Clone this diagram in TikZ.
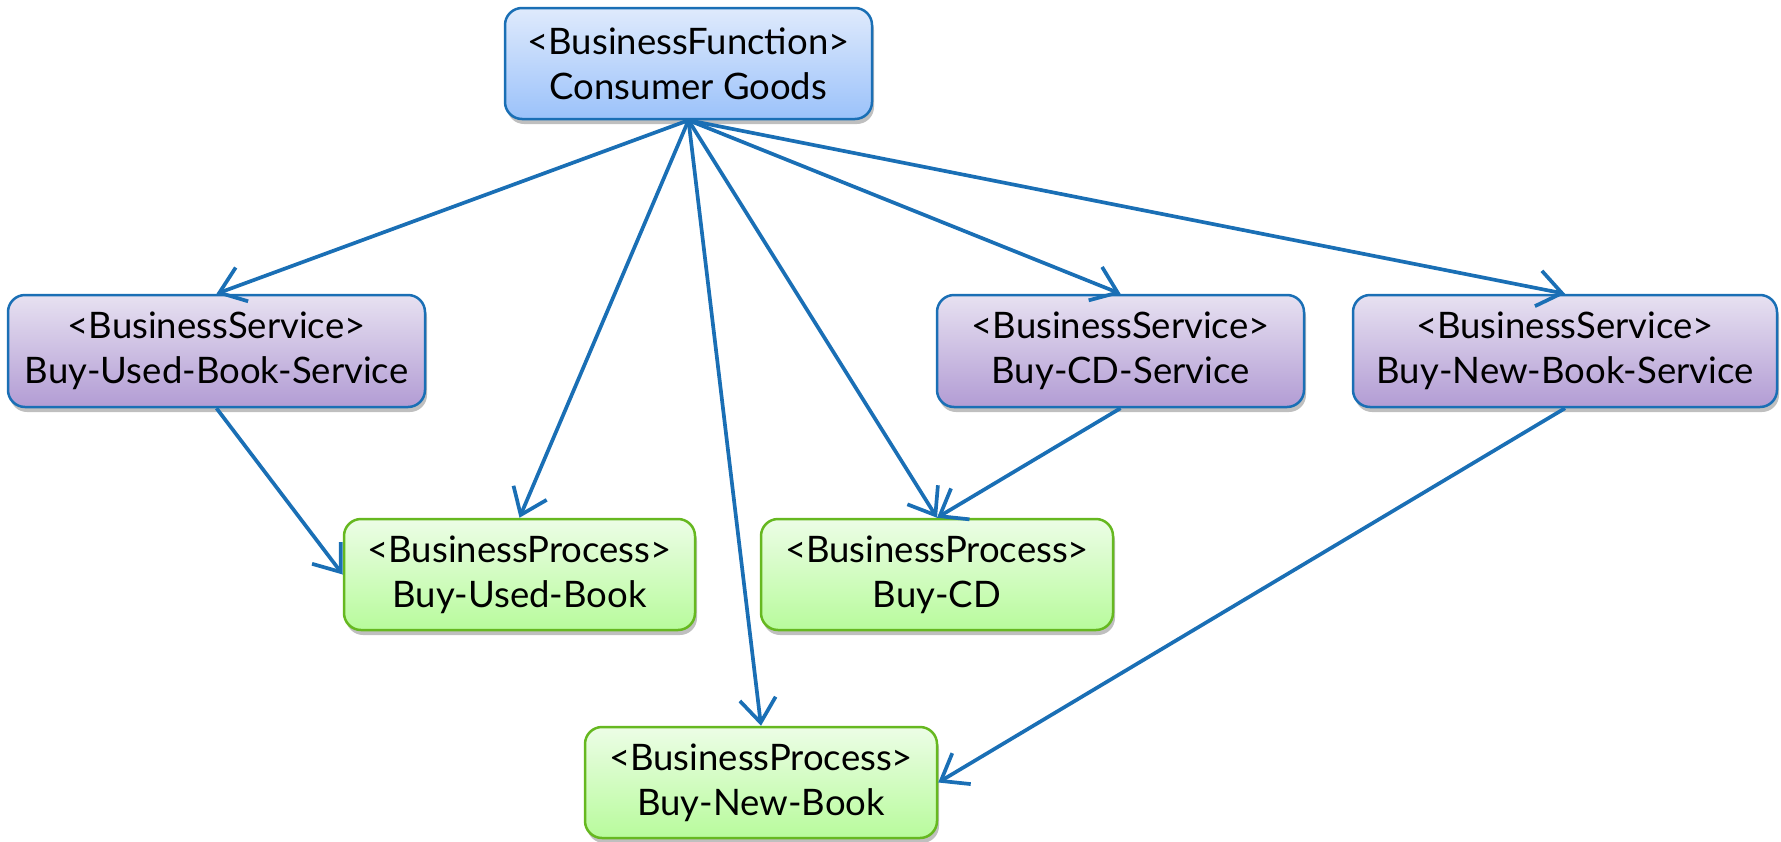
\documentclass[tikz,border=0pt]{standalone}
\usepackage{fontspec}
\setmainfont{Lato}
\usetikzlibrary{arrows.meta,shadows}
\definecolor{edgeblue}{HTML}{1A6FB5}
\definecolor{fnTop}{HTML}{DFEAFC}
\definecolor{fnBot}{HTML}{9BC2FA}
\definecolor{svTop}{HTML}{E7E1F1}
\definecolor{svBot}{HTML}{B29CD4}
\definecolor{prTop}{HTML}{ECFDE6}
\definecolor{prBot}{HTML}{B8FB9C}
\definecolor{prBorder}{HTML}{66B820}
\tikzset{
  box/.style={rounded corners=17pt, align=center, inner sep=0pt,
    line width=2.5pt, text=black,
    font=\fontsize{36.5}{45}\selectfont,
    drop shadow={shadow xshift=2pt, shadow yshift=-5pt, opacity=0.25, fill=black}},
  fnbox/.style={box, draw=edgeblue, top color=fnTop, bottom color=fnBot},
  svbox/.style={box, draw=edgeblue, top color=svTop, bottom color=svBot},
  prbox/.style={box, draw=prBorder, top color=prTop, bottom color=prBot},
  link/.style={draw=edgeblue, line width=3.7pt,
    -{Straight Barb[length=24pt,width=36pt,line width=3.7pt]}}
}
\begin{document}
\begin{tikzpicture}[x=1pt,y=-1pt]
\useasboundingbox (0,0) rectangle (1781,841);
\node[fnbox, minimum width=367pt, minimum height=111pt] (top) at (688.5,63.5) {<BusinessFunction>\\Consumer Goods};
\node[svbox, minimum width=417pt, minimum height=112pt] (usvc) at (216.5,351) {<BusinessService>\\Buy-Used-Book-Service};
\node[svbox, minimum width=367pt, minimum height=112pt] (cdsvc) at (1120.5,351) {<BusinessService>\\Buy-CD-Service};
\node[svbox, minimum width=424pt, minimum height=112pt] (nbsvc) at (1565,351) {<BusinessService>\\Buy-New-Book-Service};
\node[prbox, minimum width=351pt, minimum height=111pt] (ubook) at (519.5,574.5) {<BusinessProcess>\\Buy-Used-Book};
\node[prbox, minimum width=352pt, minimum height=111pt] (cd) at (937,574.5) {<BusinessProcess>\\Buy-CD};
\node[prbox, minimum width=352pt, minimum height=111pt] (nbook) at (761,782.5) {<BusinessProcess>\\Buy-New-Book};
\draw[link] (top.south) -- (usvc.north);
\draw[link] (top.south) -- (ubook.north);
\draw[link] (top.south) -- (nbook.north);
\draw[link] (top.south) -- (cd.north);
\draw[link] (top.south) -- (cdsvc.north);
\draw[link] (top.south) -- (nbsvc.north);
\draw[link] (usvc.south) -- (ubook.west);
\draw[link] (cdsvc.south) -- (cd.north);
\draw[link] (nbsvc.south) -- (nbook.east);
\end{tikzpicture}
\end{document}
